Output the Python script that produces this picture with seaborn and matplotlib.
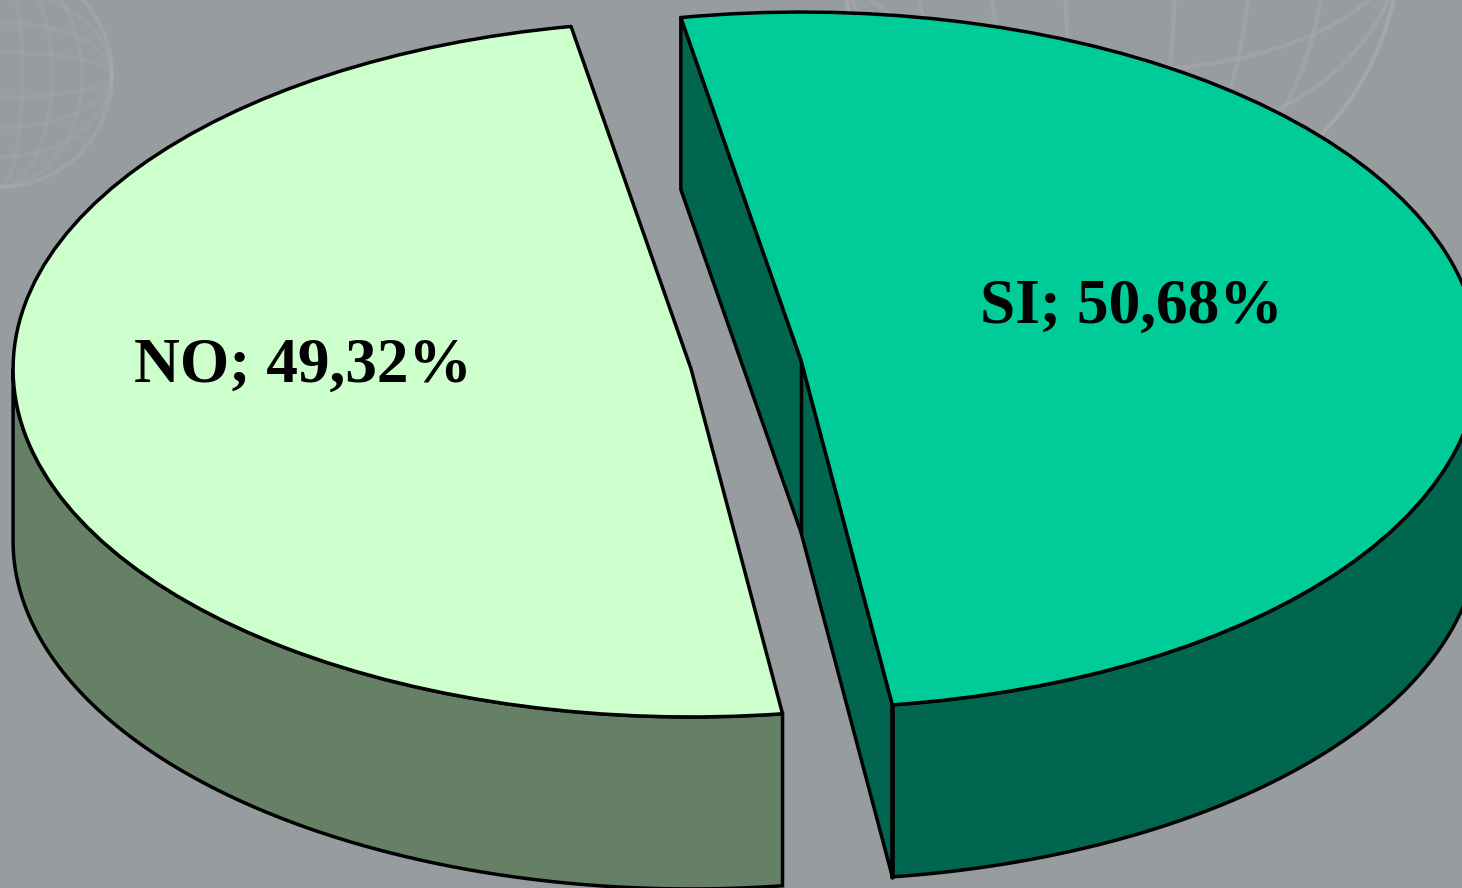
import numpy as np
import matplotlib
matplotlib.use("Agg")
import matplotlib.pyplot as plt
from matplotlib.patches import Ellipse
import seaborn as sns

categories = ["NO", "SI"]
shares = [49.32, 50.68]
top_colors = ["#CCFFCC", "#00CC99"]
side_colors = ["#668066", "#006650"]
background = "#979C9F"

W, H = 1462, 888
A, B = 678.0, 348.0          # ellipse semi-axes in pixels
DEPTH = 172.0 / B
sns.set_theme(style="white", rc={"figure.facecolor": background, "axes.facecolor": background})
plt.rcParams["font.family"] = ["Liberation Serif", "DejaVu Serif"]

fig = plt.figure(figsize=(W / 100, H / 100), dpi=100)
ax = fig.add_axes([0, 0, 1, 1])
LW = 2.5


def px(x, y):
    return x / A, (H - y) / B


wedges, _ = ax.pie(
    shares, colors=top_colors, startangle=100.2, explode=[0.082, 0.082], radius=1,
    center=px(746, 364.5),
    wedgeprops=dict(edgecolor="black", linewidth=LW, zorder=4, joinstyle="round"),
)
ax.set_aspect("auto")
ax.set_xlim(0, W / A)
ax.set_ylim(0, H / B)
ax.set_axis_off()
fig.patch.set_facecolor(background)


def rim(w, a0, a1):
    t = np.radians(np.linspace(a0, a1, 200))
    return w.center[0] + np.cos(t), w.center[1] + np.sin(t)


# side walls, from the slice angles
no, si = wedges
x, y = rim(no, 180, no.theta2)
ax.fill(np.r_[x, x[::-1]], np.r_[y, y[::-1] - DEPTH], fc=side_colors[0], ec="black", lw=LW, zorder=2)
x, y = rim(si, si.theta1, 360)
ax.fill(np.r_[x, x[::-1]], np.r_[y, y[::-1] - DEPTH], fc=side_colors[1], ec="black", lw=LW, zorder=2)

# cut face of SI
sx, sy = si.center
xa, ya = rim(si, si.theta2, si.theta2)
xb, yb = rim(si, si.theta1, si.theta1)
cx = [xa[0], sx, xb[0], xb[0], sx, xa[0]]
cy = [ya[0], sy, yb[0], yb[0] - DEPTH, sy - DEPTH, ya[0] - DEPTH]
ax.fill(cx, cy, fc=side_colors[1], ec="black", lw=LW, zorder=3, joinstyle="round")
ax.plot([sx, sx], [sy, sy - DEPTH], color="black", lw=LW, zorder=3)
ax.plot([xb[0], xb[0]], [yb[0], yb[0] - DEPTH], color="black", lw=LW * 1.3, zorder=3)


# faint backdrop wireframe globes
def globe(cxp, cyp, r, tone, alpha):
    c = px(cxp, cyp)
    for k in np.linspace(0.2, 1.0, 4):
        ax.add_patch(Ellipse(c, 2 * r * k / A, 2 * r / B, fc="none",
                             ec=tone, lw=3, alpha=alpha, zorder=1))
        ax.add_patch(Ellipse(c, 2 * r / A, 2 * r * k / B, fc="none",
                             ec=tone, lw=3, alpha=alpha, zorder=1))


globe(0, 75, 112, "#ABAFB1", 0.22)
globe(1120, -60, 280, "#ABAFB1", 0.4)

label_pos = [(303, 367), (1131, 308)]
for name, share, (lx, ly) in zip(categories, shares, label_pos):
    tx, ty = px(lx, ly)
    ax.text(tx, ty, f"{name}; {share:.2f}%".replace(".", ","), ha="center", va="center",
            fontsize=45.6, fontweight="bold", color="black", zorder=6)

fig.savefig("out.png", dpi=100, facecolor=background)
